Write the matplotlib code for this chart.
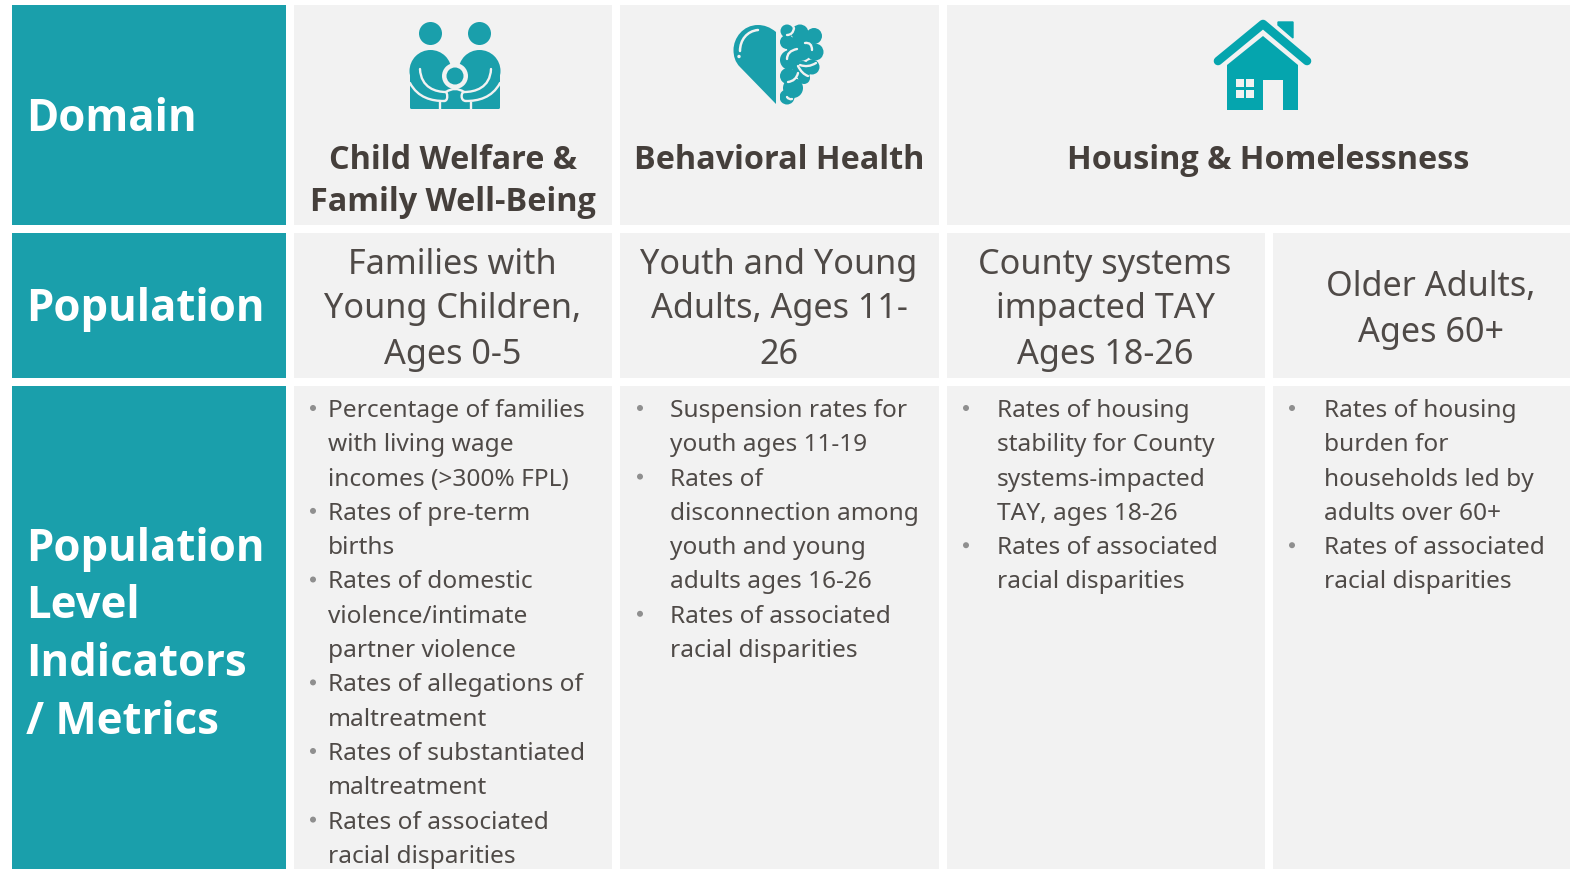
import matplotlib
matplotlib.use("Agg")
import matplotlib.pyplot as plt
from matplotlib.patches import Rectangle, Circle, Polygon, FancyBboxPatch, PathPatch
from matplotlib.path import Path

row_labels = ["Domain", "Population", "Population\nLevel\nIndicators\n/ Metrics"]
domains = ["Child Welfare &\nFamily Well-Being", "Behavioral Health", "Housing & Homelessness"]
populations = ["Families with\nYoung Children,\nAges 0-5", "Youth and Young\nAdults, Ages 11-\n26",
               "County systems\nimpacted TAY\nAges 18-26", "Older Adults,\nAges 60+"]
metrics = [
    [["Percentage of families", "with living wage", "incomes (>300% FPL)"], ["Rates of pre-term", "births"],
     ["Rates of domestic", "violence/intimate", "partner violence"], ["Rates of allegations of", "maltreatment"],
     ["Rates of substantiated", "maltreatment"], ["Rates of associated", "racial disparities"]],
    [["Suspension rates for", "youth ages 11-19"], ["Rates of", "disconnection among", "youth and young", "adults ages 16-26"],
     ["Rates of associated", "racial disparities"]],
    [["Rates of housing", "stability for County", "systems-impacted", "TAY, ages 18-26"],
     ["Rates of associated", "racial disparities"]],
    [["Rates of housing", "burden for", "households led by", "adults over 60+"],
     ["Rates of associated", "racial disparities"]],
]

TEAL = "#1a9fab"
TEAL2 = "#05a5ae"
CELL = "#f2f2f2"
DARK = "#453f3b"
BODY = "#4f4a47"
FONT = ["Noto Sans", "DejaVu Sans"]
BOLD = ["Open Sans", "DejaVu Sans"]
W, H = 1570, 869

fig = plt.figure(figsize=(W / 100, H / 100), dpi=100, facecolor="white")
ax = fig.add_axes([0, 0, 1, 1])
ax.set_xlim(0, W)
ax.set_ylim(H, 0)
ax.axis("off")


def cell(x0, x1, y0, y1, c=CELL):
    ax.add_patch(Rectangle((x0, y0), x1 - x0, y1 - y0, fc=c, ec="none", zorder=1))


rows = [(5, 224.5), (232.5, 378), (386, 869)]
for (a, b) in rows:
    cell(11.5, 285.5, a, b, TEAL)
cols = [(293.5, 612), (620, 938.5), (946.5, 1265), (1273, 1570)]
cell(293.5, 612, 5, 224.5)
cell(620, 938.5, 5, 224.5)
cell(946.5, 1570, 5, 224.5)
for (x0, x1) in cols:
    cell(x0, x1, 232.5, 378)
    cell(x0, x1, 386, 869)

# row labels
HEAD = dict(color="white", fontsize=31.5, fontweight="bold", family=BOLD, va="center", ha="left")
ax.text(26, 119.5, row_labels[0], **HEAD)
ax.text(26, 309, row_labels[1], **HEAD)
for i, line in enumerate(row_labels[2].split("\n")):
    ax.text(26, 549 + i * 57.7, line, **HEAD)

# domains
DOM = dict(color=DARK, fontsize=23.3, fontweight="bold", family=BOLD, ha="center", va="center")
dom_x = [453, 779, 1268.5]
ax.text(dom_x[0], 160.5, domains[0].split("\n")[0], **DOM)
ax.text(dom_x[0], 202.5, domains[0].split("\n")[1], **DOM)
ax.text(dom_x[1], 160.5, domains[1], **DOM)
ax.text(dom_x[2], 160.5, domains[2], **DOM)

# populations
pop_x = [452.5, 779, 1105, 1431]
for px, p in zip(pop_x, populations):
    lines = p.split("\n")
    y0 = 264.5 if len(lines) == 3 else 287.5
    for i, l in enumerate(lines):
        ax.text(px, y0 + i * 45, l, color=BODY, fontsize=24.6, family=FONT, ha="center", va="center")

# metrics
LINE = 34.3
text_x = [327.5, 670.5, 997, 1323.5]
bullet_x = [313, 640, 966, 1292]
for tx, bx, items in zip(text_x, bullet_x, metrics):
    n = 0
    for item in items:
        y = 411 + n * LINE
        ax.add_patch(Circle((bx, y - 3), 3, fc="#8f8f8f", ec="none", zorder=3))
        for l in item:
            ax.text(tx, 411 + n * LINE, l, color=BODY, fontsize=17.6, family=FONT, ha="left", va="center", zorder=3)
            n += 1

z = 4


def curve(pts, color=CELL, lw=1.7, zorder=z + 3):
    step = Path.CURVE3 if len(pts) == 3 else Path.CURVE4
    ax.add_patch(PathPatch(Path(pts, [Path.MOVETO] + [step] * (len(pts) - 1)), fc="none", ec=color, lw=lw,
                           capstyle="round", zorder=zorder))


# ---- family icon ----
for cx in (430.5, 479.5):
    ax.add_patch(Circle((cx, 33.5), 11.5, fc=TEAL, ec="none", zorder=z))
    ax.add_patch(Circle((cx, 71), 21, fc=TEAL, ec="none", zorder=z))
ax.add_patch(FancyBboxPatch((410, 72), 90, 37, boxstyle="round,pad=0,rounding_size=1.5", fc=TEAL, ec="none", zorder=z))
ax.add_patch(Circle((455, 76), 13, fc=CELL, ec="none", zorder=z + 1))
ax.add_patch(Circle((455, 76), 8.5, fc=TEAL, ec="none", zorder=z + 2))
curve([(420, 69), (421, 88), (436, 92), (446, 92)])
curve([(491, 69), (490, 88), (475, 92), (464, 92)])
curve([(410, 83), (418, 98), (432, 101), (444, 101)])
curve([(500, 83), (492, 98), (478, 101), (466, 101)])
curve([(444, 101), (449, 101), (447, 92), (446, 92)])
curve([(466, 101), (460, 101), (461, 92), (464, 92)])
curve([(446, 92), (452, 88), (458, 88), (464, 92)])
for lx in (439.5, 470.5):
    ax.plot([lx, lx], [103, 109.5], color=CELL, lw=1.7, zorder=z + 3)

# ---- heart / brain icon ----
heart = Path([(776, 32), (770, 27), (764, 25), (758, 25), (743, 25), (733.5, 38), (733.5, 50), (733.5, 56), (735, 62), (740, 67),
              (776, 104), (776, 32)],
             [1, 4, 4, 4, 4, 4, 4, 4, 4, 4, 2, 2])
ax.add_patch(PathPatch(heart, fc=TEAL, ec="none", zorder=z))
curve([(740, 51), (740, 40), (747, 31), (758, 30)], lw=1.8)
ax.add_patch(Circle((739, 56.5), 1.7, fc=CELL, ec="none", zorder=z + 3))
lobes = [(787, 31, 6.5), (800, 33, 8.5), (814, 36, 8), (815, 52, 8.5), (800, 48, 13), (790, 60, 10),
         (812, 67, 7.5), (802, 70, 9), (804, 78, 6), (793, 88, 10), (787, 97, 7.5), (788, 76, 8), (787, 42, 7)]
for cx, cy, r in lobes:
    ax.add_patch(Circle((cx, cy), r, fc=TEAL, ec="none", zorder=z))
ax.add_patch(Rectangle((776, 18), 4, 90, fc=CELL, ec="none", zorder=z + 1))
brain_lines = [
    [(787, 35), (793, 35), (794, 28)],
    [(805, 43), (812, 42), (812, 50)],
    [(787, 59), (787, 51), (797, 49)],
    [(816, 63), (808, 68), (800, 65)],
    [(808, 76), (802, 74), (798, 66)],
    [(788, 82), (796, 81), (798, 73)],
    [(787, 97), (789, 100), (792, 99)],
]
for seg in brain_lines:
    curve(seg)

# ---- house icon ----
ax.add_patch(Polygon([(1278, 22), (1293, 22), (1293, 38), (1278, 25)], closed=True, fc=TEAL2, ec=TEAL2, lw=1, zorder=z))
ax.plot([1218, 1263, 1307], [61, 24, 61], color=TEAL2, lw=6.2, solid_capstyle="round", solid_joinstyle="round", zorder=z)
ax.add_patch(Polygon([(1227, 65), (1263, 36), (1298, 65), (1298, 110), (1227, 110)], closed=True, fc=TEAL2, ec="none", zorder=z))
ax.add_patch(Rectangle((1263, 80), 20, 31, fc=CELL, ec="none", zorder=z + 1))
for wx in (1236, 1246):
    for wy in (79, 90):
        ax.add_patch(Rectangle((wx, wy), 8, 8, fc=CELL, ec="none", zorder=z + 1))

fig.savefig("out.png", dpi=100, facecolor="white")
